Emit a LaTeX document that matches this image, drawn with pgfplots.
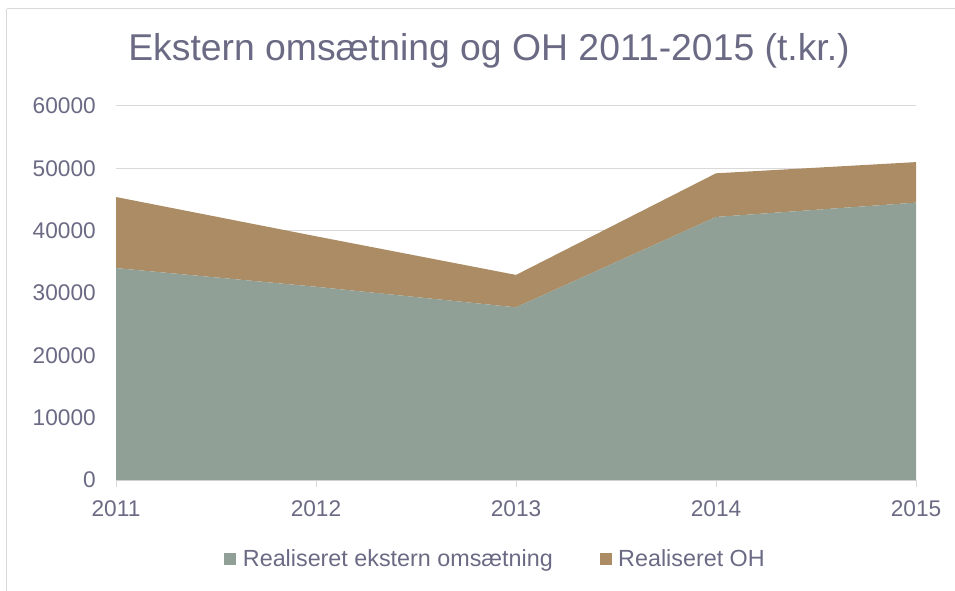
\documentclass[border=0pt]{standalone}
\usepackage{fontspec}
\setmainfont{Liberation Sans}
\usepackage{pgfplots}
\pgfplotsset{compat=1.18}
\definecolor{txt}{HTML}{6B6A84}
\definecolor{grn}{HTML}{91A096}
\definecolor{brn}{HTML}{AB8C64}
\definecolor{grd}{HTML}{D9D9D9}
\begin{document}
\begin{tikzpicture}
\begin{scope}[x=0.75pt,y=-0.75pt]
\useasboundingbox (0,0) rectangle (955,591);
\draw[grd,line width=0.75pt] (6.5,9) -- (955,9);
\draw[grd,line width=0.75pt] (6.5,9) -- (6.5,591);
\node[txt,font=\fontsize{28}{32}\selectfont] at (489,51) {Ekstern omsætning og OH 2011-2015 (t.kr.)};
\end{scope}
\begin{axis}[
  at={(87pt,-360pt)}, anchor=south west,
  scale only axis, width=600pt, height=280.5pt,
  xmin=2011, xmax=2015, ymin=0, ymax=60000,
  stack plots=y,
  scaled ticks=false,
  xtick={2011,2012,2013,2014,2015},
  ytick={0,10000,...,60000},
  xticklabel style={/pgf/number format/1000 sep={}},
  yticklabel style={/pgf/number format/1000 sep={}},
  /pgf/number format/assume math mode=true,
  ticklabel style={font=\fontsize{17}{19}\selectfont, text=txt, inner sep=0pt},
  axis y line*=left, y axis line style={draw=none},
  axis x line*=bottom, x axis line style={grd, line width=0.75pt},
  major tick length=5pt,
  xtick style={grd, line width=0.75pt},
  xtick align=outside,
  ytick style={draw=none},
  ymajorgrids, grid style={grd, line width=0.75pt},
  yticklabel style={xshift=-15pt},
  xticklabel style={yshift=-10pt},
  legend style={at={(0.135,-0.211)}, anchor=west, draw=none, fill=none,
    legend columns=2, font=\fontsize{17.5}{20}\selectfont, text=txt, inner sep=0pt,
    /tikz/every odd column/.append style={column sep=3pt},
    /tikz/every even column/.append style={column sep=33pt}},
  legend cell align=left,
]
\addplot[fill=grn, draw=none, area legend,
  legend image code/.code={\fill[grn] (0pt,-4.5pt) rectangle (9pt,4.5pt);}]
  coordinates {(2011,34000) (2012,31000) (2013,27700) (2014,42200) (2015,44500)} \closedcycle;
\addlegendentry{Realiseret ekstern omsætning}
\addplot[fill=brn, draw=none, area legend,
  legend image code/.code={\fill[brn] (0pt,-4.5pt) rectangle (9pt,4.5pt);}]
  coordinates {(2011,11400) (2012,8100) (2013,5200) (2014,7000) (2015,6500)} \closedcycle;
\addlegendentry{Realiseret OH}
\end{axis}
\end{tikzpicture}
\end{document}
